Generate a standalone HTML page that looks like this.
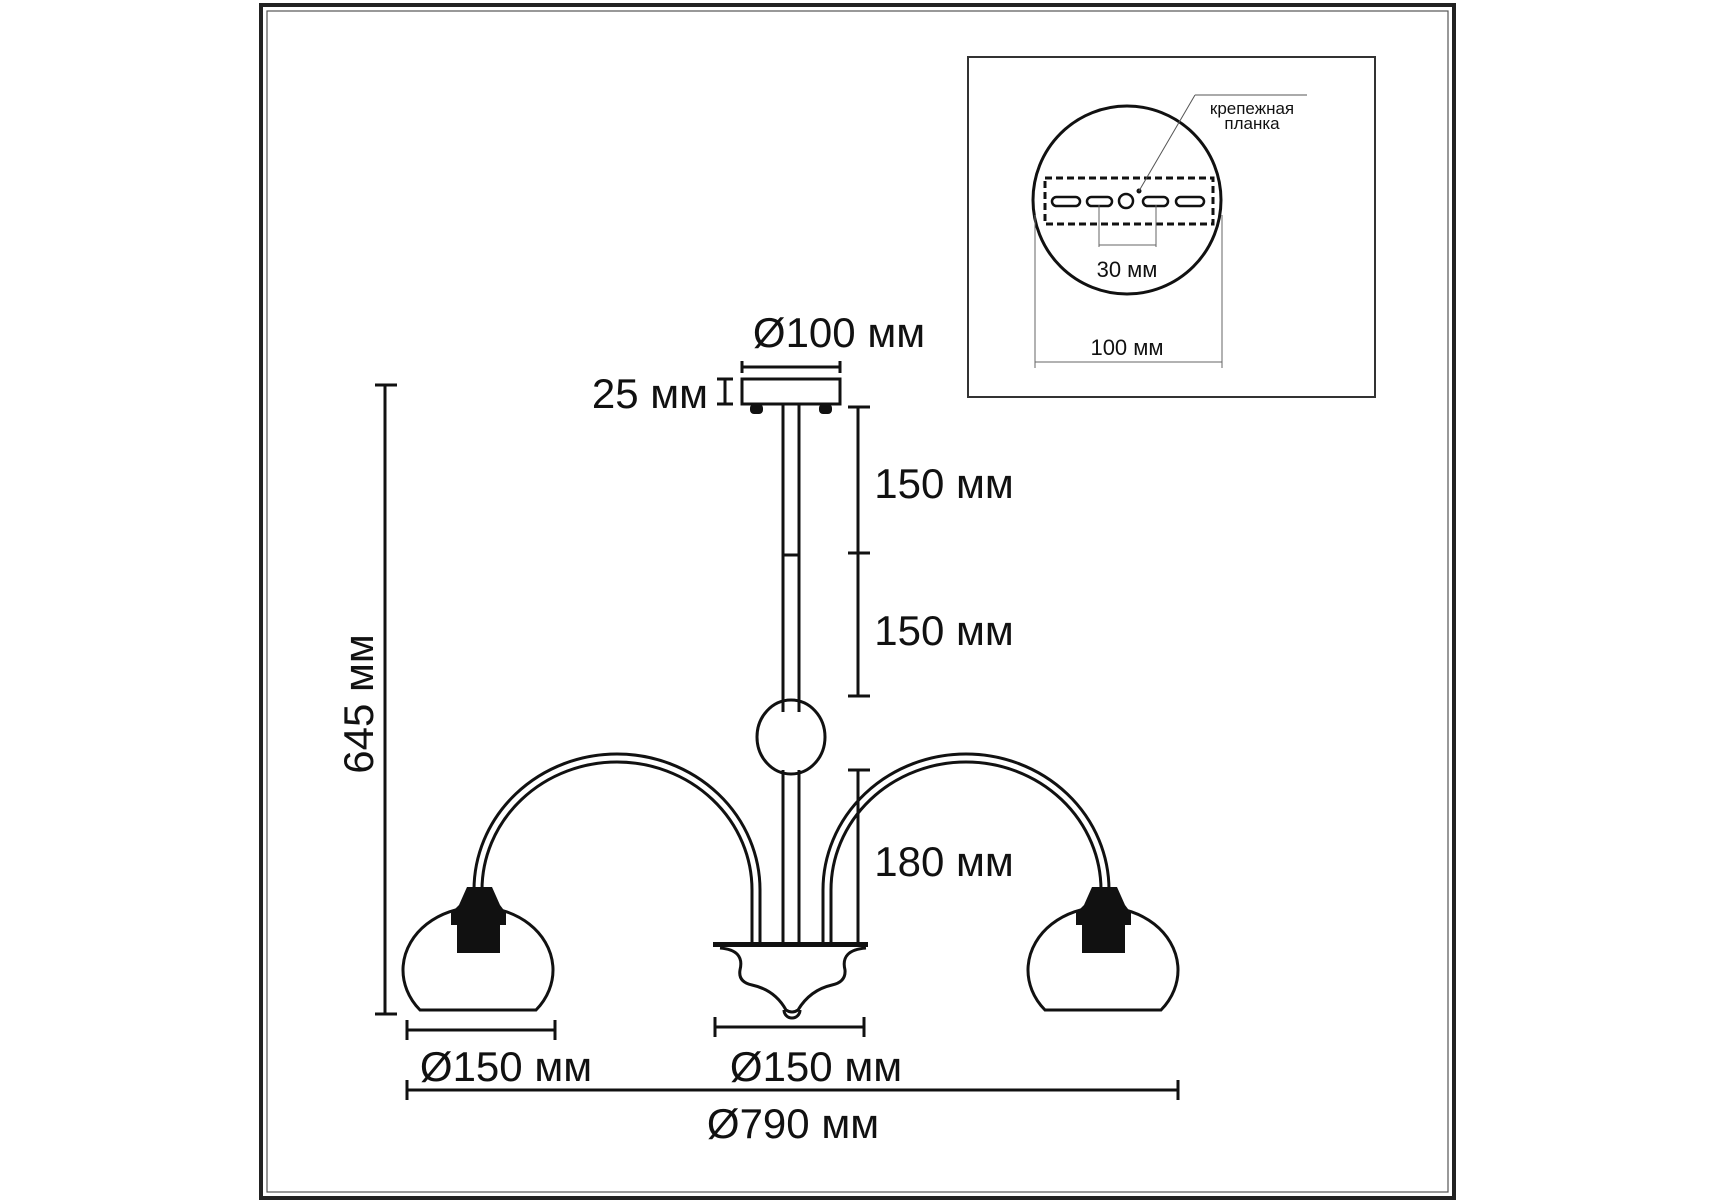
<!DOCTYPE html>
<html><head><meta charset="utf-8"><style>
html,body{margin:0;padding:0;background:#fff}
svg{display:block}
text{font-family:"Liberation Sans",sans-serif;fill:#111}
</style></head><body>
<svg width="1715" height="1200" viewBox="0 0 1715 1200" xmlns="http://www.w3.org/2000/svg">
<rect x="0" y="0" width="1715" height="1200" fill="#fff"/>
<rect x="261" y="5" width="1193" height="1193" fill="none" stroke="#222" stroke-width="4"/>
<rect x="267" y="11" width="1181" height="1181" fill="none" stroke="#555" stroke-width="1.2"/>
<rect x="968" y="57" width="407" height="340" fill="none" stroke="#333" stroke-width="2"/>
<circle cx="1127" cy="200" r="94" fill="none" stroke="#111" stroke-width="3"/>
<rect x="1045" y="178" width="168" height="46" fill="none" stroke="#111" stroke-width="3" stroke-dasharray="7,4"/>
<g fill="none" stroke="#111" stroke-width="2.5">
<rect x="1052" y="197" width="28" height="9" rx="4.5"/>
<rect x="1087" y="197" width="25" height="9" rx="4.5"/>
<circle cx="1126" cy="201" r="7"/>
<rect x="1143" y="197" width="25" height="9" rx="4.5"/>
<rect x="1176" y="197" width="28" height="9" rx="4.5"/>
</g>
<circle cx="1139" cy="191" r="2.5" fill="#111"/>
<line x1="1139" y1="191" x2="1195" y2="95" stroke="#555" stroke-width="1"/>
<line x1="1195" y1="95" x2="1307" y2="95" stroke="#555" stroke-width="1"/>
<text x="1252" y="114" font-size="17" text-anchor="middle">крепежная</text>
<text x="1252" y="129" font-size="17" text-anchor="middle">планка</text>
<g stroke="#666" stroke-width="1" fill="none">
<line x1="1099" y1="205" x2="1099" y2="247"/>
<line x1="1156" y1="205" x2="1156" y2="247"/>
<line x1="1099" y1="245" x2="1156" y2="245"/>
<line x1="1035" y1="215" x2="1035" y2="368"/>
<line x1="1222" y1="215" x2="1222" y2="368"/>
<line x1="1035" y1="362" x2="1222" y2="362"/>
</g>
<text x="1127" y="277" font-size="22" text-anchor="middle">30 мм</text>
<text x="1127" y="355" font-size="22" text-anchor="middle">100 мм</text>

<g stroke="#111" stroke-width="3" fill="none">
<rect x="742" y="379" width="98" height="25"/>
<line x1="742" y1="361" x2="742" y2="373"/><line x1="840" y1="361" x2="840" y2="373"/>
<line x1="742" y1="367" x2="840" y2="367"/>
<line x1="717" y1="379" x2="733" y2="379"/><line x1="717" y1="404" x2="733" y2="404"/><line x1="725" y1="379" x2="725" y2="404"/>
<line x1="783" y1="404" x2="783" y2="712"/><line x1="799" y1="404" x2="799" y2="712"/>
<line x1="783" y1="770" x2="783" y2="944"/><line x1="799" y1="770" x2="799" y2="944"/>
<line x1="783" y1="555" x2="799" y2="555"/>
<ellipse cx="791" cy="737" rx="34" ry="37"/>
<line x1="858" y1="407" x2="858" y2="696"/>
<line x1="848" y1="407" x2="870" y2="407"/><line x1="848" y1="553" x2="870" y2="553"/><line x1="848" y1="696" x2="870" y2="696"/>
<line x1="858" y1="770" x2="858" y2="944"/><line x1="848" y1="770" x2="870" y2="770"/>
<path d="M474 890 A143 136 0 0 1 760 890 L760 944"/>
<path d="M482 890 A135 128 0 0 1 752 890 L752 944"/>
<path d="M823 944 L823 890 A143 136 0 0 1 1109 890"/>
<path d="M831 944 L831 890 A135 128 0 0 1 1101 890"/>
<path d="M420 1010 A75 63 0 1 1 536 1010 Z"/>
<path d="M1045 1010 A75 63 0 1 1 1161 1010 Z"/>
<path d="M717 944 H868 M720 948 Q745 950 740 970 Q738 982 752 985 Q775 990 786 1010 Q792 1014 798 1010 Q810 990 832 985 Q846 982 845 970 Q840 950 866 948"/>
<path d="M784 1010 A8 8 0 0 0 800 1010"/>
<line x1="385" y1="385" x2="385" y2="1014"/><line x1="375" y1="385" x2="397" y2="385"/><line x1="375" y1="1014" x2="397" y2="1014"/>
<line x1="407" y1="1030" x2="555" y2="1030"/><line x1="407" y1="1020" x2="407" y2="1040"/><line x1="555" y1="1020" x2="555" y2="1040"/>
<line x1="715" y1="1027" x2="864" y2="1027"/><line x1="715" y1="1017" x2="715" y2="1037"/><line x1="864" y1="1017" x2="864" y2="1037"/>
<line x1="407" y1="1090" x2="1178" y2="1090"/><line x1="407" y1="1080" x2="407" y2="1100"/><line x1="1178" y1="1080" x2="1178" y2="1100"/>
</g>
<g fill="#111">
<rect x="750" y="404" width="13" height="10" rx="4"/><rect x="819" y="404" width="13" height="10" rx="4"/>
<path d="M467 887 H492 L500 905 L506 913 V925 H500 V953 H457 V925 H451 V913 L459 905 Z"/>
<path d="M1092 887 H1117 L1125 905 L1131 913 V925 H1125 V953 H1082 V925 H1076 V913 L1084 905 Z"/>
<rect x="713" y="942" width="155" height="5"/>
</g>
<g font-size="42" text-anchor="middle">
<text x="839" y="347">Ø100 мм</text>
<text x="650" y="408">25 мм</text>
<text x="944" y="498">150 мм</text>
<text x="944" y="645">150 мм</text>
<text x="944" y="876">180 мм</text>
<text x="506" y="1081">Ø150 мм</text>
<text x="816" y="1081">Ø150 мм</text>
<text x="793" y="1138">Ø790 мм</text>
<text transform="translate(373 704) rotate(-90)">645 мм</text>
</g>
</svg>
</body></html>
